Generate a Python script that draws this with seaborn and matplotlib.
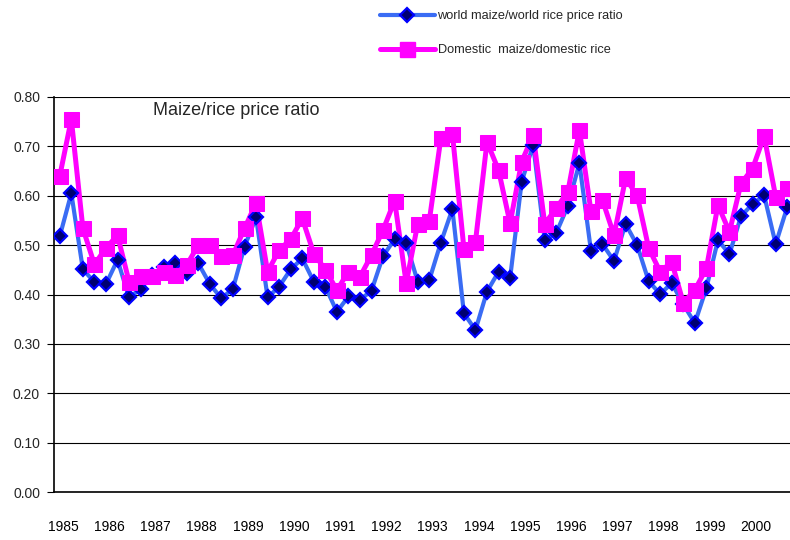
import matplotlib
matplotlib.use("Agg")
import matplotlib.pyplot as plt
from matplotlib.lines import Line2D
from matplotlib.ticker import FixedLocator, MultipleLocator
import pandas as pd
import seaborn as sns

# quarterly ratios, 1985Q1 .. 2000Q4
years = list(range(1985, 2001))
world_ratio = [
    0.518, 0.605, 0.451, 0.425, 0.421, 0.470, 0.394, 0.411, 0.440, 0.456,
    0.464, 0.443, 0.463, 0.421, 0.392, 0.412, 0.497, 0.556, 0.394, 0.416,
    0.451, 0.473, 0.426, 0.416, 0.365, 0.396, 0.389, 0.408, 0.478, 0.512,
    0.504, 0.426, 0.429, 0.505, 0.573, 0.362, 0.328, 0.406, 0.446, 0.433,
    0.628, 0.703, 0.510, 0.525, 0.579, 0.666, 0.489, 0.502, 0.468, 0.543,
    0.500, 0.427, 0.401, 0.423, 0.380, 0.342, 0.413, 0.510, 0.482, 0.559,
    0.583, 0.601, 0.502, 0.577,
]
domestic_ratio = [
    0.640, 0.755, 0.534, 0.461, 0.494, 0.520, 0.426, 0.438, 0.437, 0.446,
    0.440, 0.460, 0.500, 0.500, 0.478, 0.480, 0.534, 0.585, 0.446, 0.490,
    0.512, 0.554, 0.483, 0.450, 0.409, 0.446, 0.436, 0.480, 0.531, 0.590,
    0.423, 0.543, 0.549, 0.716, 0.726, 0.493, 0.507, 0.709, 0.652, 0.544,
    0.669, 0.723, 0.543, 0.575, 0.608, 0.733, 0.569, 0.591, 0.520, 0.635,
    0.601, 0.494, 0.446, 0.466, 0.383, 0.409, 0.453, 0.581, 0.527, 0.625,
    0.655, 0.721, 0.598, 0.615,
]
world_label = "world maize/world rice price ratio"
domestic_label = "Domestic  maize/domestic rice"

BLUE_LINE = "#3a6cf4"
BLUE_MARK = "#0000ff"
NAVY = "#000070"
PINK = "#ff00ff"

sns.set_theme(style="white")
plt.rcParams["font.family"] = ["Liberation Sans", "DejaVu Sans"]

df = pd.DataFrame({
    "q": range(len(world_ratio)),
    "world": world_ratio,
    "domestic": domestic_ratio,
})

fig = plt.figure(figsize=(7.9, 5.4), dpi=100)
ax = fig.add_axes([54 / 790, 48 / 540, 739 / 790, 395 / 540])

# lines first, then markers on top (like the spreadsheet renders)
sns.lineplot(data=df, x="q", y="world", color=BLUE_LINE, lw=3, ax=ax, zorder=3)
sns.lineplot(data=df, x="q", y="domestic", color=PINK, lw=3.6, ax=ax, zorder=3)
sns.lineplot(data=df, x="q", y="world", linestyle="none", marker="D", markersize=6.8,
             markerfacecolor=NAVY, markeredgecolor=BLUE_MARK, markeredgewidth=1.6,
             ax=ax, zorder=4)
sns.lineplot(data=df, x="q", y="domestic", linestyle="none", marker="s", markersize=10.8,
             markerfacecolor=PINK, markeredgecolor=PINK, ax=ax, zorder=5)

ax.set_xlim(-0.5, len(world_ratio) - 0.5)
ax.set_ylim(0, 0.8)
ax.yaxis.set_major_locator(MultipleLocator(0.1))
ax.yaxis.set_major_formatter(plt.FuncFormatter(lambda v, _: f"{v:.2f}"))
ax.grid(axis="y", color="black", lw=0.8)
ax.set_axisbelow(True)

ax.xaxis.set_major_locator(FixedLocator([4 * k + 0.3 for k in range(len(years))]))
ax.set_xticklabels([str(y) for y in years])
ax.xaxis.set_minor_locator(FixedLocator([i + 0.5 for i in range(-1, len(world_ratio))]))
ax.tick_params(axis="x", which="major", length=0, pad=20, labelsize=10, colors="black")
ax.tick_params(axis="x", which="minor", length=5, width=0.8, color="black", direction="out")
ax.tick_params(axis="y", length=5, width=0.8, color="black", direction="out",
               labelsize=10, pad=5, left=True)
ax.set_xlabel("")
ax.set_ylabel("")

for side in ["top", "right"]:
    ax.spines[side].set_visible(False)
for side in ["left", "bottom"]:
    ax.spines[side].set_color("black")
    ax.spines[side].set_linewidth(1.2)

ax.text(0.134, 0.967, "Maize/rice price ratio", transform=ax.transAxes,
        fontsize=13, ha="left", va="center")

handles = [
    Line2D([], [], color=BLUE_LINE, lw=3, marker="D", markersize=6.8,
           markerfacecolor=NAVY, markeredgecolor=BLUE_MARK, markeredgewidth=1.6),
    Line2D([], [], color=PINK, lw=3.6, marker="s", markersize=10.8,
           markerfacecolor=PINK, markeredgecolor=PINK),
]
fig.legend(handles, [world_label, domestic_label], loc="upper left",
           bbox_to_anchor=(380 / 790, 1 - 10 / 540), frameon=False, fontsize=9.2,
           handlelength=4.3, handletextpad=0.2, labelspacing=1.75,
           borderpad=0, borderaxespad=0)

fig.savefig("out.png", dpi=100)
